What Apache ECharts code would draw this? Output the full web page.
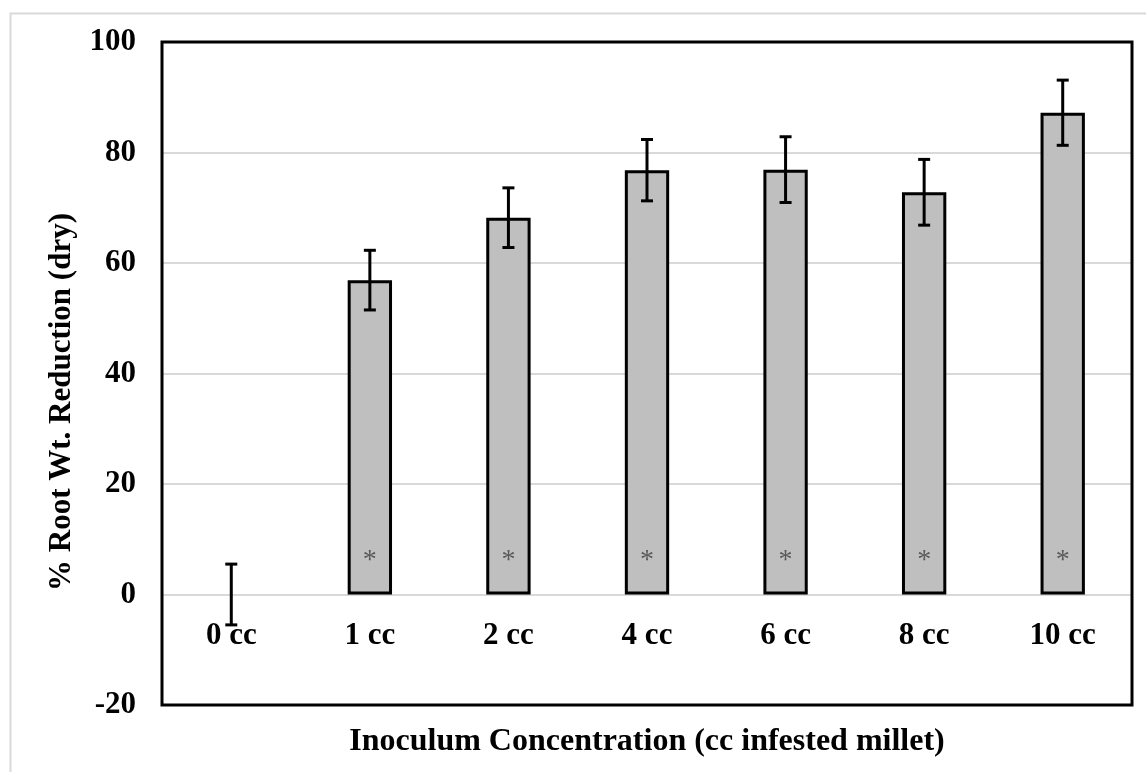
<!DOCTYPE html>
<html>
<head>
<meta charset="utf-8">
<script src="https://cdn.jsdelivr.net/npm/echarts@6/dist/echarts.min.js"></script>
<style>
html,body{margin:0;padding:0;background:#fff;}
#chart{width:1146px;height:772px;}
</style>
</head>
<body>
<div id="chart"></div>
<script>
const categories = ['0 cc', '1 cc', '2 cc', '4 cc', '6 cc', '8 cc', '10 cc'];
const values = [0, 56.9, 68.2, 76.8, 76.9, 72.8, 87.2];
const errors = [5.5, 5.4, 5.4, 5.55, 5.95, 5.95, 5.9];
const marks = ['', '*', '*', '*', '*', '*', '*'];
const yTicks = { min: -20, max: 100, interval: 20 };
const yTitle = '% Root Wt. Reduction (dry)';
const xTitle = 'Inoculum Concentration (cc infested millet)';

const font = '"Liberation Serif", "Times New Roman", serif';
const gridTop = 42, gridBottom = 67, H = 772;
const plotH = H - gridTop - gridBottom;
const zeroOffset = -plotH * (0 - yTicks.min) / (yTicks.max - yTicks.min);

const chart = echarts.init(document.getElementById('chart'), null, {renderer: 'canvas'});

const errData = categories.map((c, i) => [i, values[i] - errors[i], values[i] + errors[i]]);
const barData = values.map(v => v === 0
  ? { value: v, itemStyle: { borderWidth: 0, color: 'transparent' } }
  : v);

chart.setOption({
  animation: false,
  backgroundColor: '#ffffff',
  grid: { left: 162, right: 14, top: gridTop, bottom: gridBottom, outerBoundsMode: 'none', containLabel: false,
          show: true, borderColor: '#000', borderWidth: 3, backgroundColor: 'transparent', z: 3 },
  xAxis: {
    type: 'category',
    data: categories,
    offset: zeroOffset,
    axisLine: { onZero: false, lineStyle: { color: '#d9d9d9', width: 2 } },
    axisTick: { show: false },
    axisLabel: { color: '#000', fontFamily: font, fontWeight: 'bold', fontSize: 31, margin: 26 }
  },
  yAxis: {
    type: 'value',
    min: yTicks.min, max: yTicks.max, interval: yTicks.interval,
    axisLine: { show: false },
    axisTick: { show: false },
    splitLine: { lineStyle: { color: '#d9d9d9', width: 2 } },
    axisLabel: { color: '#000', fontFamily: font, fontWeight: 'bold', fontSize: 31, margin: 26 }
  },
  graphic: [
    { type: 'rect', left: 8, top: 11, shape: { width: 1300, height: 900 }, style: { fill: 'none', stroke: '#d9d9d9', lineWidth: 2 }, silent: true, z: -10 },
    { type: 'text', x: 62, y: 402, rotation: Math.PI / 2,
      style: { text: yTitle, fill: '#000', font: 'bold 31px ' + font, textAlign: 'center', textVerticalAlign: 'middle' } },
    { type: 'text', x: 647, y: 742,
      style: { text: xTitle, fill: '#000', font: 'bold 32px ' + font, textAlign: 'center', textVerticalAlign: 'middle' } }
  ],
  series: [
    {
      type: 'bar',
      data: barData,
      barWidth: '32%',
      itemStyle: { color: '#bfbfbf', borderColor: '#000', borderWidth: 3 },
      label: {
        show: true,
        position: 'insideBottom',
        distance: 20,
        formatter: p => marks[p.dataIndex],
        color: '#595959',
        fontFamily: font,
        fontSize: 28
      },
      z: 2
    },
    {
      type: 'custom',
      data: errData,
      z: 5,
      renderItem: function (params, api) {
        const x = api.value(0);
        const lo = api.coord([x, api.value(1)]);
        const hi = api.coord([x, api.value(2)]);
        const hw = 6;
        const st = { stroke: '#000', lineWidth: 3 };
        return {
          type: 'group',
          children: [
            { type: 'line', shape: { x1: lo[0], y1: lo[1], x2: hi[0], y2: hi[1] }, style: st },
            { type: 'line', shape: { x1: lo[0] - hw, y1: lo[1], x2: lo[0] + hw, y2: lo[1] }, style: st },
            { type: 'line', shape: { x1: hi[0] - hw, y1: hi[1], x2: hi[0] + hw, y2: hi[1] }, style: st }
          ]
        };
      }
    }
  ]
});
</script>
</body>
</html>
